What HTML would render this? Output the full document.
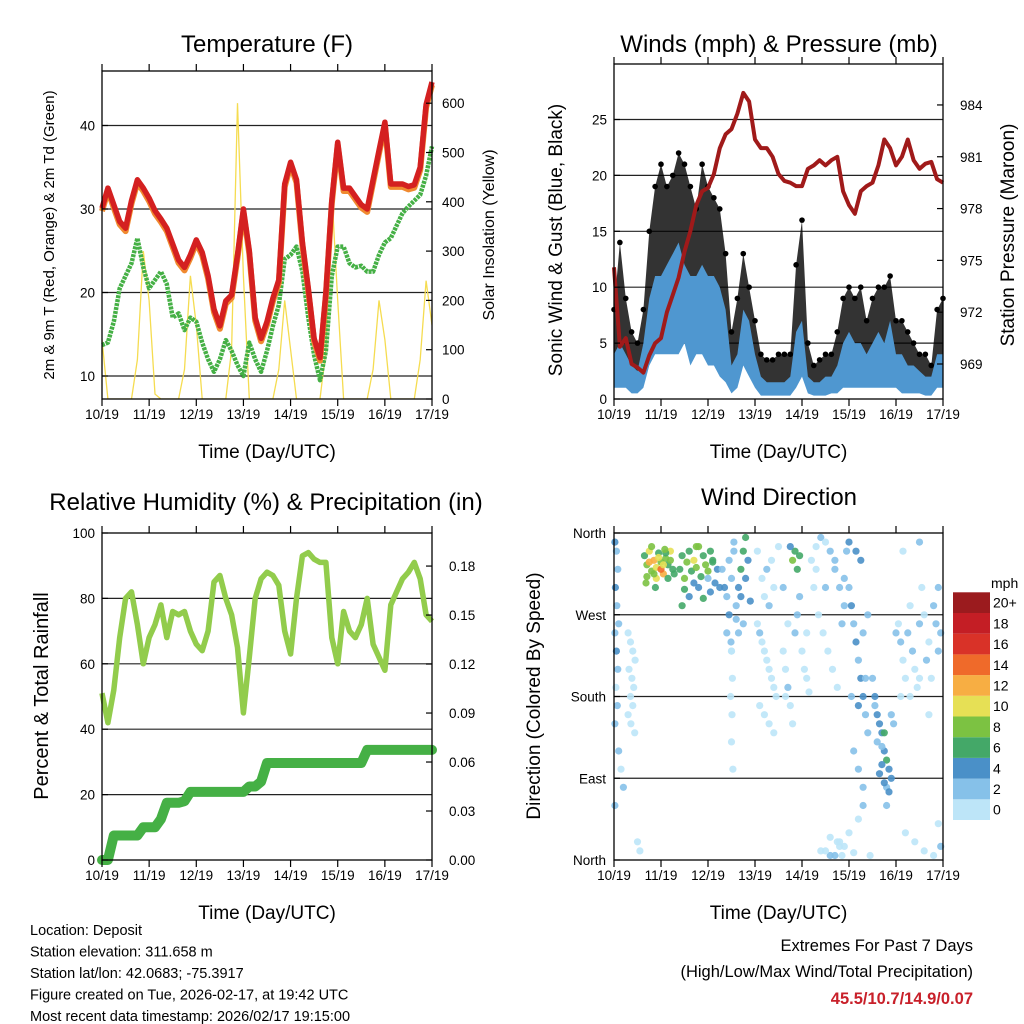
<!DOCTYPE html>
<html><head><meta charset="utf-8"><style>
html,body{margin:0;padding:0;background:#fff;}
svg{display:block;font-family:"Liberation Sans",sans-serif;}
</style></head><body>
<svg id="chart" width="1024" height="1024" viewBox="0 0 1024 1024" xmlns="http://www.w3.org/2000/svg"></svg>
<script>
// ---------- DATA (3-hourly, t = days since 10/19) ----------
const dayLabels = ["10/19","11/19","12/19","13/19","14/19","15/19","16/19","17/19"];
const tempRed = [30.1,32.5,30.5,28.5,27.7,31,33.5,32.5,31.3,29.8,28.8,27.7,25.8,23.9,23,24.5,26.3,24.8,22,18,16,19,19.7,24.5,30,25,17,14.5,16.5,19.3,21.5,33,35.6,33.5,26,20.5,14.5,12.2,20,31,38,32.5,32.5,31.5,30.5,30,33.5,37,40.4,33,33,33,32.7,32.9,35,42.5,45.2];
const dewGreen = [13.7,14,16.5,20.5,22,23.5,26.5,23,20.5,21.5,22.5,21,17,17.5,15.5,17,16.5,14,12,10.5,12,14.3,13,11.3,10,14,12,10.5,13,16,18.5,24,24.5,25.5,22.5,17,12.5,9.5,13,22,25.5,25.5,23.5,23,23.2,22.5,22.5,24.5,26,26.5,28,29.5,30.3,31,31.7,34,37.5];
const solar = [120,0,0,0,0,0,80,300,200,10,0,0,0,0,60,250,150,0,0,0,0,0,100,600,250,0,0,0,0,0,60,200,100,0,0,0,0,0,100,420,200,0,0,0,0,0,60,200,120,0,0,0,0,0,80,240,150];
const pressure = [974.6,970,970.5,969,968.8,968.5,969.5,970.2,970.5,972,973,974,975.5,976.7,978.2,979,979.2,980,981.5,982.3,982.6,983.5,984.7,984.2,982,981.5,981.5,981,980,979.6,979.5,979.3,979.3,980.3,980.5,980.8,980.5,980.8,981,979,978.2,977.7,979,979.3,979.5,980.5,982,981.5,980.5,981,982,980.8,980.3,980.6,980.7,979.7,979.5];
const windLo = [1,1,1,0.5,0.5,1,3,4,4,4,4,4,5,3,4,4,3,3,2,1.5,0.5,1,3,2,1,0.3,0.3,0.3,0.3,0.3,0.3,1,2,0.5,0.3,0.3,0.3,0.5,0.5,1,1,1,1,1,1,1,1,1,1,0.5,0.5,0.5,0.5,0.3,0.3,1,1];
const windHi = [4,5,4,3,2.5,5,9,11,11,12,13,14,12,11,11,12,11,11,10,8,3,4,8,7,4,2,1.5,1.5,1.5,1.5,2,6,7,2,1.5,1.5,2,2,3,5,6,5,5,4,5,6,5,7,4,4,3,3,2.5,2,2,4,4];
const gustLo = [2,3,2,1,1,3,6,9,10,10,10,11,10,9,9,9,9,8,8,5,1,3,6,5,2,1,1,1,1,1,1,4,5,1,1,1,1,1.5,2,3,3,3,3,2,3,3,3,4,2,2,2,1.5,1,1,1,2,2];
const gustHi = [8,14,9,6,5,8,15,19,21,19,20,22,21,19,17,21,19,18,17,13,6,9,13,10,7,4,3.5,3.5,4,4,4,12,16,5,3,3.5,4,4,6,9,10,9,10,7,9,10,10,11,7,7,6,5,4,4,3,8,9];
const rh = [51,42,52,68,80,82,72,60,68,72,78,68,76,75,76,70,66,64,70,85,87,80,75,65,45,62,80,86,88,87,84,70,63,80,93,94,92,91,91,68,60,76,70,68,72,80,66,62,58,78,82,86,88,91,86,75,73];
const precip = [0,0,0.015,0.015,0.015,0.015,0.015,0.02,0.02,0.02,0.025,0.035,0.035,0.035,0.036,0.0417,0.0417,0.0417,0.0417,0.0417,0.0417,0.0417,0.0417,0.0417,0.0417,0.045,0.045,0.048,0.0594,0.0594,0.0594,0.0594,0.0594,0.0594,0.0594,0.0594,0.0594,0.0594,0.0594,0.0594,0.0594,0.0594,0.0594,0.0594,0.0594,0.0674,0.0674,0.0674,0.0674,0.0674,0.0674,0.0674,0.0674,0.0674,0.0674,0.0674,0.0674];
const dirTimes = [.65,.7,.75,.8,.85,.9,.95,1.0,1.05,1.1,1.15,1.2,1.25,.7,.8,.9,1.0,1.1,1.2,.75,.85,.95,1.05,1.15,.68,.88,1.08,1.28,
1.4,1.45,1.5,1.55,1.6,1.65,1.7,1.75,1.8,1.85,1.9,1.95,2.0,2.05,2.1,2.15,2.2,2.25,1.5,1.6,1.7,1.8,1.9,2.0,2.1,1.45,1.75,2.05,
2.3,2.35,2.4,2.45,2.5,2.55,2.4,2.5,2.6,2.65,2.7,2.75,2.8,2.85,2.7,2.75,2.8,2.6,2.65,2.9,2.45,2.55,
2.5,2.52,2.48,2.51,2.5,2.53,2.49,
0.02,0.05,0.08,0.03,0.06,0.1,0.02,0.05,0.08,0.04,0.07,0.02,0.3,0.35,0.4,0.45,0.32,0.38,0.42,0.35,0.4,0.3,0.36,0.44,0.1,0.15,0.2,0.02,0.5,0.55,
3.05,3.1,3.15,3.2,3.25,3.3,3.35,3.4,3.45,3.1,3.2,3.3,3.4,3.15,3.25,3.35,3.05,3.2,3.3,3.4,3.5,
3.6,3.65,3.7,3.75,3.8,3.85,3.9,3.95,4.0,4.05,4.1,4.15,3.8,3.85,3.9,3.75,3.95,3.7,4.1,3.6,3.65,
4.2,4.3,4.4,4.5,4.6,4.7,4.8,4.9,4.25,4.35,4.45,4.55,4.65,4.75,4.85,4.95,4.3,4.5,4.7,4.9,4.4,4.6,4.8,4.75,4.85,
5.0,5.05,5.1,5.15,5.2,5.25,5.3,5.35,5.4,5.1,5.2,5.3,5.0,5.15,5.25,5.35,5.05,5.2,5.3,5.4,
5.5,5.55,5.6,5.65,5.7,5.75,5.8,5.85,5.9,5.6,5.7,5.8,5.65,5.75,5.85,5.55,5.9,5.95,5.7,5.8,6.0,5.75,
6.05,6.1,6.15,6.2,6.25,6.3,6.35,6.4,6.45,6.5,6.55,6.6,6.65,6.7,6.75,6.8,6.85,6.9,6.95,6.1,6.3,6.5,6.7,6.9,6.2,6.4,6.6,6.8,6.95,6.9,6.15,6.5,
4.5,4.6,4.7,4.8,4.9,5.0,5.1,5.2,5.3,5.45];
const dirValues = [335,325,340,318,330,322,338,328,315,332,325,340,320,312,345,310,320,338,330,328,315,333,325,310,305,300,342,315,
320,335,310,328,340,318,330,322,345,312,335,325,318,340,328,305,320,300,298,290,305,300,288,310,330,280,345,295,
320,300,290,270,310,340,250,230,280,300,320,340,355,330,290,260,310,265,250,285,330,350,
230,200,180,160,130,100,240,
350,340,320,300,280,260,250,230,210,190,170,150,250,240,230,220,210,200,190,180,170,160,150,140,120,100,80,60,20,10,
260,250,240,230,220,210,200,190,180,170,160,150,140,310,320,330,340,290,280,300,345,
230,210,190,170,150,250,270,290,230,210,200,185,330,340,320,345,335,260,250,300,180,
330,345,355,350,340,320,300,280,300,270,250,230,210,190,260,340,320,300,330,310,10,5,15,20,5,
300,280,260,240,220,200,180,160,140,120,100,80,350,340,330,200,180,170,250,270,
200,180,160,150,140,120,110,100,90,130,105,80,95,85,75,170,160,150,125,60,250,140,
260,240,220,200,250,280,230,210,190,260,300,270,220,240,200,280,260,300,250,180,180,200,160,230,30,20,10,5,15,40,340,350,
10,25,5,20,15,30,8,45,60,5];
const dirSpeeds = [7,8,11,9,12,10,6,9,13,8,7,10,6,9,8,10,14,7,8,12,9,11,10,6,8,7,9,6,
7,6,8,9,7,6,10,8,9,7,6,8,9,7,6,5,5,4,6,5,4,5,6,3,7,6,8,5,
3,4,3,4,2,3,2,1,3,4,6,7,6,4,5,3,4,2,3,4,3,2,
1,1,0.5,1,1,0.5,2,
4,3,3,4,3,2,3,4,2,1,2,3,1,1,0.5,1,1,0.5,1,1,0.5,1,1,0.5,2,1,2,2,1,0.5,
1,2,1,0.5,1,1,0.5,1,1,0.5,1,0.5,1,1,2,1,1,1,2,1,0.5,
1,1,2,1,1,2,3,2,1,1,1,0.5,8,7,6,5,6,1,1,2,1,
1,1,2,1,2,3,2,2,1,1,0.5,1,1,0.5,2,3,1,2,3,2,1,2,1,1,0.5,
3,4,3,4,3,4,5,3,3,2,3,2,4,4,5,3,3,4,3,2,
3,4,4,5,4,5,6,5,4,3,4,3,4,5,4,2,3,3,3,3,2,6,
1,2,1,1,2,1,2,1,1,2,1,1,2,1,1,2,3,2,3,1,1,1,1,2,1,1,1,1,2,1,1,2,
1,1,2,1,1,0.5,1,1,2,1];
const speedLabels = ["0","2","4","6","8","10","12","14","16","18","20+"];
const speedColors = ["#bde5f8","#86c1e9","#4a90c8","#44a868","#7cc242","#e6e055","#f7ae43","#ef6a2a","#d93228","#c41e25","#9b1b1e"];
const tempTicks=[10,20,30,40], solarTicks=[0,100,200,300,400,500,600];
const windTicks=[0,5,10,15,20,25], presTicks=[969,972,975,978,981,984];
const rhTicks=[0,20,40,60,80,100], prTicks=[0,0.03,0.06,0.09,0.12,0.15,0.18];
const dirTicks=[0,90,180,270,360], dirNames=["North","East","South","West","North"];

// ---------- helpers ----------
const NS="http://www.w3.org/2000/svg";
const svg=document.getElementById('chart');
function mk(tag,attrs,parent){const e=document.createElementNS(NS,tag);for(const k in attrs)e.setAttribute(k,attrs[k]);(parent||svg).appendChild(e);return e;}
function txt(s,x,y,size,anchor,parent,extra){const e=mk('text',Object.assign({x:x,y:y,'font-size':size,'text-anchor':anchor||'middle',fill:'#000'},extra||{}),parent);e.textContent=s;return e;}
const T=i=>i/8;

function panel(name){
  const g=mk('g',{});
  
  
  return g;
}
function frame(g,x0,x1,y0,y1,xs){
  const r=mk('rect',{x:x0,y:y0,width:x1-x0,height:y1-y0,fill:'none',stroke:'#000','stroke-width':1.3},g);
  
  
  for(let d=0;d<=7;d++){
    const x=xs(d);
    const tb=mk('line',{x1:x,x2:x,y1:y1,y2:y1+7,stroke:'#000','stroke-width':1.2},g);
    
    
    const tt=mk('line',{x1:x,x2:x,y1:y0,y2:y0-7,stroke:'#000','stroke-width':1.2},g);
    
    
    const l=txt(dayLabels[d],x,y1+20,13.5,'middle',g);
    
    
  }
  const xt=txt('Time (Day/UTC)',(x0+x1)/2,y1+59,19,'middle',g);
  
  
}
function hgrid(g,x0,x1,ys){
  ys.forEach(y=>{const l=mk('line',{x1:x0,x2:x1,y1:y,y2:y,stroke:'#222','stroke-width':1.2},g);
  
  });
}
function yticks(g,x,ys,labels,side,dx){
  ys.forEach((y,i)=>{
    const t=mk('line',{x1:x,x2:x+(side==='left'?6:-6),y1:y,y2:y,stroke:'#000','stroke-width':1.2},g);
    
    
    const l=txt(labels[i],side==='left'?x-dx:x+dx,y+5,13.5,side==='left'?'end':'start',g);
    
    
  });
}
function vtitle(g,s,x,y,size){
  const e=txt(s,x,y,size,'middle',g,{transform:`rotate(-90 ${x} ${y})`});
  
  
}
function title(g,s,x,y){
  const e=txt(s,x,y,24,'middle',g);
  
  
}
function pathOf(vals,xs,ys,times){return vals.map((v,i)=>(i?'L':'M')+xs(times?times[i]:T(i)).toFixed(1)+' '+ys(v).toFixed(1)).join(' ');}

// ---------- Panel 1: Temperature ----------
{
  const x0=102,x1=432,y0=71,y1=399;
  const xs=t=>x0+t*(x1-x0)/7, yT=v=>376-(v-10)*8.35, yS=v=>399-v*0.493;
  const g=panel('temperature-panel');
  title(g,'Temperature (F)',267,52);
  hgrid(g,x0,x1,tempTicks.map(yT));
  const cp=mk('clipPath',{id:'c1'},g);mk('rect',{x:x0,y:y0,width:x1-x0,height:y1-y0},cp);
  const sol=mk('path',{d:pathOf(solar,xs,yS),fill:'none',stroke:'#f5dc50','stroke-width':1.3,'clip-path':'url(#c1)'},g);
  
  
  const dp=mk('path',{d:pathOf(dewGreen,xs,yT),fill:'none',stroke:'#45b045','stroke-width':4.5,'stroke-dasharray':'3 1','stroke-linejoin':'round'},g);
  
  
  const o=mk('path',{d:pathOf(tempRed.map(v=>v-0.35),xs,yT),fill:'none',stroke:'#f08a30','stroke-width':6,'stroke-linejoin':'round'},g);
  
  
  const r=mk('path',{d:pathOf(tempRed,xs,yT),fill:'none',stroke:'#d42020','stroke-width':5.5,'stroke-linejoin':'round'},g);
  
  
  frame(g,x0,x1,y0,y1,xs);
  yticks(g,x0,tempTicks.map(yT),tempTicks.map(String),'left',7);
  yticks(g,x1,solarTicks.map(yS),solarTicks.map(String),'right',10);
  vtitle(g,'2m & 9m T (Red, Orange) & 2m Td (Green)',54,235,15);
  vtitle(g,'Solar Insolation (Yellow)',494,235,16);
}
// ---------- Panel 2: Winds ----------
{
  const x0=614,x1=943,y0=64,y1=399;
  const xs=t=>x0+t*(x1-x0)/7, yW=v=>399-v*11.18, yP=p=>364-(p-969)*17.27;
  const g=panel('winds-pressure-panel');
  title(g,'Winds (mph) & Pressure (mb)',779,52);
  hgrid(g,x0,x1,windTicks.slice(1).map(yW));
  const band=(lo,hi)=>lo.map((v,i)=>(i?'L':'M')+xs(T(i)).toFixed(1)+' '+yW(v).toFixed(1)).join(' ')+' '+hi.map((v,i)=>'L'+xs(T(hi.length-1-i)).toFixed(1)+' '+yW(hi[hi.length-1-i]).toFixed(1)).join(' ')+'Z';
  const gb=mk('path',{d:band(gustLo,gustHi),fill:'#000','fill-opacity':0.8},g);
  
  
  gustHi.forEach((v,i)=>{const c=mk('circle',{cx:xs(T(i)),cy:yW(v),r:2.8,fill:'#000'},g);
    
    });
  const wb=mk('path',{d:band(windLo,windHi),fill:'#4f97d0'},g);
  
  
  const p=mk('path',{d:pathOf(pressure,xs,yP),fill:'none',stroke:'#a01a1a','stroke-width':4,'stroke-linejoin':'round'},g);
  
  
  frame(g,x0,x1,y0,y1,xs);
  yticks(g,x0,windTicks.map(yW),windTicks.map(String),'left',7);
  yticks(g,x1,presTicks.map(yP),presTicks.map(String),'right',17);
  vtitle(g,'Sonic Wind & Gust (Blue, Black)',562,240,19);
  vtitle(g,'Station Pressure (Maroon)',1014,235,19);
}
// ---------- Panel 3: RH & Precip ----------
{
  const x0=102,x1=432,y0=533,y1=860;
  const xs=t=>x0+t*(x1-x0)/7, yR=v=>860-v*3.27, yPr=v=>860-v*1633;
  const g=panel('humidity-precip-panel');
  title(g,'Relative Humidity (%) & Precipitation (in)',266,510);
  hgrid(g,x0,x1,[20,40,60,80].map(yR));
  const r=mk('path',{d:pathOf(rh,xs,yR),fill:'none',stroke:'#92cc4c','stroke-width':5.5,'stroke-linejoin':'round'},g);
  
  
  const pr=mk('path',{d:pathOf(precip,xs,yPr),fill:'none',stroke:'#45b045','stroke-width':10,'stroke-linejoin':'round','stroke-linecap':'round'},g);
  
  
  frame(g,x0,x1,y0,y1,xs);
  yticks(g,x0,rhTicks.map(yR),rhTicks.map(String),'left',7);
  yticks(g,x1,prTicks.map(yPr),prTicks.map(v=>v.toFixed(2)),'right',17);
  vtitle(g,'Percent & Total Rainfall',48,696,20);
}
// ---------- Panel 4: Wind direction ----------
{
  const x0=614,x1=943,y0=533,y1=860;
  const xs=t=>x0+t*(x1-x0)/7, yD=d=>860-d*(327/360);
  const g=panel('wind-direction-panel');
  title(g,'Wind Direction',779,505);
  hgrid(g,x0,x1,[90,180,270].map(yD));
  dirTimes.forEach((t,i)=>{
    const ci=Math.min(10,Math.max(0,Math.floor(dirSpeeds[i]/2)));
    const c=mk('circle',{cx:xs(t).toFixed(1),cy:yD(dirValues[i]).toFixed(1),r:3.6,fill:speedColors[ci],'fill-opacity':0.9},g);
    
    
  });
  frame(g,x0,x1,y0,y1,xs);
  yticks(g,x0,dirTicks.map(yD),dirNames,'left',8);
  vtitle(g,'Direction (Colored By Speed)',540,696,19);
  const cb=mk('g',{},g);
  
  
  const cy0=820,bh=20.7;
  speedColors.forEach((col,i)=>{
    const y=cy0-(i+1)*bh;
    const b=mk('rect',{x:953,y:y,width:37,height:bh,fill:col},cb);
    
    
    const l=txt(speedLabels[i],993,y+bh/2+5,14,'start',cb);
    
    
  });
  const u=txt('mph',991,588,14,'start',cb);
  
  
}
// ---------- footer text ----------
{
  const g=mk('g',{});
  
  
  ["Location: Deposit","Station elevation: 311.658 m","Station lat/lon: 42.0683; -75.3917","Figure created on Tue, 2026-02-17, at 19:42 UTC","Most recent data timestamp: 2026/02/17 19:15:00"].forEach((s,i)=>{
    const t=txt(s,30,935+i*21.5,14.5,'start',g);
    
    
  });
  const h=mk('g',{});
  
  
  const a=txt('Extremes For Past 7 Days',973,951,16.5,'end',h);
  
  
  const b=txt('(High/Low/Max Wind/Total Precipitation)',973,977,16.5,'end',h);
  
  
  const c=txt('45.5/10.7/14.9/0.07',973,1004,16.5,'end',h,{fill:'#c8202a','font-weight':'bold'});
  
  
}
</script>
</body></html>
